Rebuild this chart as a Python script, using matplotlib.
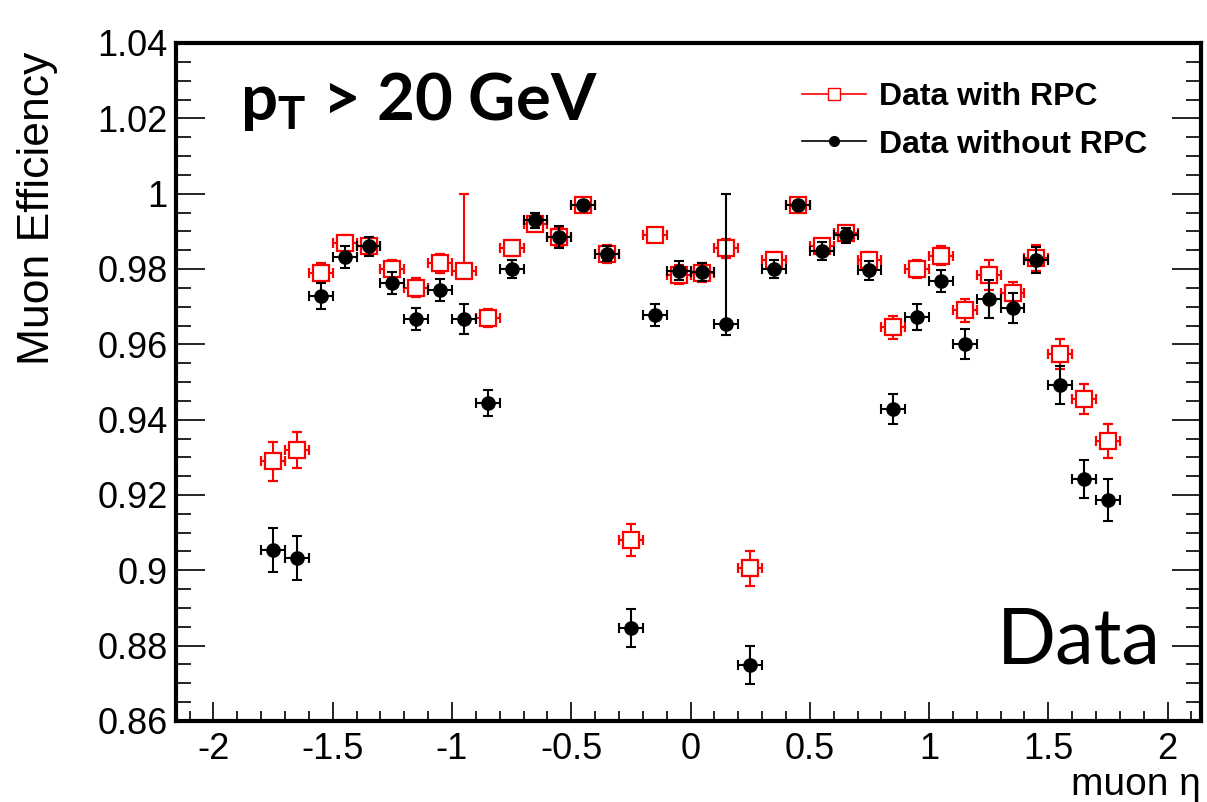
import numpy as np
import matplotlib
matplotlib.use('Agg')
import matplotlib.pyplot as plt
from matplotlib.lines import Line2D
from matplotlib.ticker import FixedLocator, MultipleLocator

plt.rcParams['font.family'] = ['Liberation Sans', 'DejaVu Sans']
plt.rcParams['axes.unicode_minus'] = False
plt.rcParams['mathtext.fontset'] = 'custom'
plt.rcParams['mathtext.rm'] = 'Lato'
plt.rcParams['mathtext.bf'] = 'Lato:bold'

# bin centres in muon eta
eta = [-1.75, -1.65, -1.55, -1.45, -1.35, -1.25, -1.15, -1.05, -0.95, -0.85,
       -0.75, -0.65, -0.55, -0.45, -0.35, -0.25, -0.15, -0.05, 0.05, 0.15,
       0.25, 0.35, 0.45, 0.55, 0.65, 0.75, 0.85, 0.95, 1.05, 1.15,
       1.25, 1.35, 1.45, 1.55, 1.65, 1.75]
eta_err = 0.05

# data with RPC (red open squares)
eff_rpc = [0.929, 0.932, 0.979, 0.987, 0.986, 0.980, 0.975, 0.9815, 0.9795, 0.967,
           0.9855, 0.992, 0.9885, 0.997, 0.984, 0.908, 0.989, 0.9785, 0.979, 0.9855,
           0.9005, 0.9825, 0.997, 0.986, 0.9895, 0.9825, 0.9645, 0.980, 0.9835, 0.969,
           0.9785, 0.9735, 0.983, 0.9575, 0.9455, 0.9343]
err_rpc_lo = [0.0052, 0.0048, 0.0025, 0.002, 0.0015, 0.0025, 0.0025, 0.0025, 0.002, 0.0025,
              0.002, 0.002, 0.0025, 0.001, 0.0025, 0.0043, 0.0015, 0.0025, 0.0025, 0.0025,
              0.0046, 0.002, 0.001, 0.002, 0.0015, 0.002, 0.003, 0.0025, 0.0025, 0.003,
              0.004, 0.003, 0.0035, 0.004, 0.004, 0.0045]
err_rpc_hi = [0.0052, 0.0048, 0.0025, 0.002, 0.0015, 0.0025, 0.0025, 0.0025, 0.0205, 0.0025,
              0.002, 0.002, 0.0025, 0.001, 0.0025, 0.0043, 0.0015, 0.0025, 0.0025, 0.0025,
              0.0046, 0.002, 0.001, 0.002, 0.0015, 0.002, 0.003, 0.0025, 0.0025, 0.003,
              0.004, 0.003, 0.0035, 0.004, 0.004, 0.0045]

# data without RPC (black dots)
eff_norpc = [0.9054, 0.9033, 0.9728, 0.9832, 0.986, 0.9763, 0.9667, 0.9744, 0.9667, 0.9444,
             0.980, 0.993, 0.9885, 0.997, 0.984, 0.8847, 0.9678, 0.9795, 0.9792, 0.9654,
             0.8748, 0.980, 0.997, 0.9848, 0.989, 0.9797, 0.9428, 0.9672, 0.9768, 0.9602,
             0.972, 0.9697, 0.9824, 0.9492, 0.9243, 0.9187]
err_norpc_lo = [0.0058, 0.0058, 0.0035, 0.003, 0.0025, 0.003, 0.003, 0.003, 0.004, 0.0035,
                0.0025, 0.002, 0.003, 0.001, 0.002, 0.005, 0.003, 0.0025, 0.0025, 0.003,
                0.005, 0.0025, 0.001, 0.0025, 0.002, 0.0025, 0.004, 0.0035, 0.003, 0.004,
                0.005, 0.004, 0.0035, 0.005, 0.005, 0.0055]
err_norpc_hi = [0.0058, 0.0058, 0.0035, 0.003, 0.0025, 0.003, 0.003, 0.003, 0.004, 0.0035,
                0.0025, 0.002, 0.003, 0.001, 0.002, 0.005, 0.003, 0.0025, 0.0025, 0.0346,
                0.005, 0.0025, 0.001, 0.0025, 0.002, 0.0025, 0.004, 0.0035, 0.003, 0.004,
                0.005, 0.004, 0.0035, 0.005, 0.005, 0.0055]

xticks = [-2, -1.5, -1, -0.5, 0, 0.5, 1, 1.5, 2]
xtick_labels = ['-2', '-1.5', '-1', '-0.5', '0', '0.5', '1', '1.5', '2']
yticks = [0.86, 0.88, 0.90, 0.92, 0.94, 0.96, 0.98, 1.00, 1.02, 1.04]
ytick_labels = ['0.86', '0.88', '0.9', '0.92', '0.94', '0.96', '0.98', '1', '1.02', '1.04']

fig = plt.figure(figsize=(12.07, 8.02), dpi=100)
ax = fig.add_axes([176/1207, 1-721/802, (1201-176)/1207, (721-43)/802])

ax.errorbar(eta, eff_rpc, xerr=eta_err, yerr=[err_rpc_lo, err_rpc_hi], fmt='s',
            color='#ff0000', mfc='white', mec='#ff0000', ms=11, mew=1.6,
            elinewidth=1.5, capsize=3.5, capthick=1.5, zorder=3)
ax.errorbar(eta, eff_norpc, xerr=eta_err, yerr=[err_norpc_lo, err_norpc_hi], fmt='o',
            color='black', ms=9.5, elinewidth=1.5, capsize=3.5, capthick=1.5, zorder=4)

ax.set_xlim(-2.157, 2.140)
ax.set_ylim(0.86, 1.04)
ax.xaxis.set_major_locator(FixedLocator(xticks))
ax.set_xticklabels(xtick_labels)
ax.xaxis.set_minor_locator(MultipleLocator(0.1))
ax.yaxis.set_major_locator(FixedLocator(yticks))
ax.set_yticklabels(ytick_labels)
ax.yaxis.set_minor_locator(MultipleLocator(0.005))

ax.tick_params(axis='both', which='both', direction='in', labelsize=26, width=1.2)
ax.tick_params(axis='x', which='major', length=14, pad=8)
ax.tick_params(axis='x', which='minor', length=7)
ax.tick_params(axis='y', which='major', length=21, pad=6, right=True)
ax.tick_params(axis='y', which='minor', length=11, right=True)
for s in ax.spines.values():
    s.set_linewidth(3)

fig.text(38/1207, 1-208/802, 'Muon Efficiency', rotation=90, ha='center', va='center',
         fontsize=32)
fig.text(1201/1207, 1-795/802, 'muon \u03b7', ha='right', va='baseline', fontsize=28)

fig.text(240/1207, 1-120/802, r'$\mathbf{p_T}$ > 20 GeV', family='Lato', weight='bold',
         fontsize=47, ha='left', va='baseline')
fig.text(997/1207, 1-663/802, 'Data', family='Lato', fontsize=56, ha='left', va='baseline')

handles = [Line2D([], [], color='#ff0000', marker='s', mfc='white', mec='#ff0000', ms=9, lw=1.2),
           Line2D([], [], color='black', marker='o', ms=7, lw=1.2)]
ax.legend(handles, ['Data with RPC', 'Data without RPC'], loc='upper left',
          bbox_to_anchor=(802/1207, 1-82/802), bbox_transform=fig.transFigure,
          frameon=False, prop={'weight': 'bold', 'size': 23}, handlelength=2.0,
          handletextpad=0.4, labelspacing=0.55, borderpad=0, borderaxespad=0)

fig.savefig('out.png', dpi=100)
